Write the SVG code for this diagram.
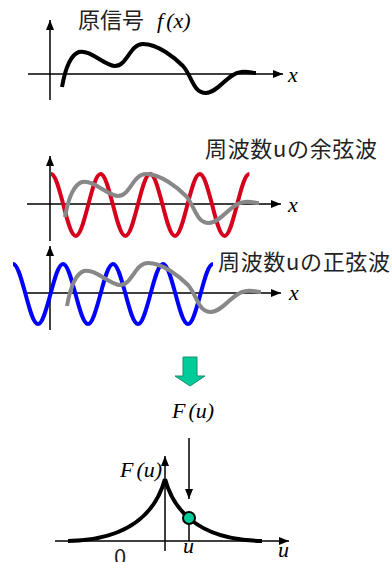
<svg xmlns="http://www.w3.org/2000/svg" width="392" height="562" viewBox="0 0 392 562">
<defs>
<marker id="ah" markerUnits="userSpaceOnUse" markerWidth="10" markerHeight="8" refX="10" refY="4" orient="auto">
<path d="M0,0 L10,4 L0,8 z" fill="#000"/>
</marker>
<path id="sig" d="M62,87 C65,70 70,55 79,52 C90,49 105,66 115,66 C127,66 130,44 143,44 C158,44 175,58 183,66 C192,76 193,93 206,93 C218,93 228,73 241,72 C248,71 252,73 256,73"/>
</defs>
<style>
.ax{stroke:#000;stroke-width:1.5;fill:none}
.axa{stroke:#000;stroke-width:1.5;fill:none;marker-end:url(#ah)}
.sig{stroke:#000;stroke-width:4;fill:none;stroke-linecap:butt}
.gray{stroke:#888;stroke-width:4;fill:none}
.red{stroke:#D6001C;stroke-width:4;fill:none}
.blue{stroke:#0000FF;stroke-width:4;fill:none}
.jp{font-family:"Noto Sans CJK JP","Noto Sans",sans-serif;font-size:22px;fill:#222}
.m{font-family:"Liberation Serif",serif;font-style:italic;font-size:22px;fill:#000}
.mu{font-family:"Liberation Serif",serif;font-size:22px;fill:#000}
.green{fill:#00CC99;stroke:#1A8A6A;stroke-width:1}
</style>

<g id="original">
<line class="axa" x1="50" y1="100" x2="50" y2="20"/>
<line class="axa" x1="28" y1="74" x2="283" y2="74"/>
<use href="#sig" class="sig"/>
<text class="jp" x="78" y="28" font-size="21">原信号</text>
<text class="m" x="157" y="28">f<tspan class="mu" dx="3">(</tspan>x<tspan class="mu">)</tspan></text>
<text class="m" x="288" y="82">x</text>
</g>

<g id="cosine">
<line class="axa" x1="50" y1="241" x2="50" y2="156"/>
<line class="axa" x1="27" y1="204" x2="281" y2="204"/>
<path class="red" d="M51,174 c4.49,0 8.36,15.88 12.4,31 c4.04,15.88 7.91,31 12.4,31 c4.49,0 8.36,-15.88 12.4,-31 c4.04,-15.88 7.91,-31 12.4,-31 c4.49,0 8.36,15.88 12.4,31 c4.04,15.88 7.91,31 12.4,31 c4.49,0 8.36,-15.88 12.4,-31 c4.04,-15.88 7.91,-31 12.4,-31 c4.49,0 8.36,15.88 12.4,31 c4.04,15.88 7.91,31 12.4,31 c4.49,0 8.36,-15.88 12.4,-31 c4.04,-15.88 7.91,-31 12.4,-31 c4.49,0 8.36,15.88 12.4,31 c4.04,15.88 7.91,31 12.4,31 c4.49,0 8.36,-15.88 12.4,-31 c4.04,-15.88 7.91,-31 12.4,-31"/>
<use href="#sig" class="gray" transform="translate(3,130)"/>
<text class="jp" x="205" y="157" textLength="172" lengthAdjust="spacing">周波数uの余弦波</text>
<text class="m" x="288" y="212">x</text>
</g>

<g id="sine">
<line class="axa" x1="50" y1="330" x2="50" y2="246"/>
<line class="axa" x1="27" y1="293" x2="281" y2="293"/>
<path class="blue" d="M13,264 c4.52,0 8.42,15.37 12.5,30 c4.08,15.37 7.98,30 12.5,30 c4.52,0 8.42,-15.37 12.5,-30 c4.08,-15.37 7.98,-30 12.5,-30 c4.52,0 8.42,15.37 12.5,30 c4.08,15.37 7.98,30 12.5,30 c4.52,0 8.42,-15.37 12.5,-30 c4.08,-15.37 7.98,-30 12.5,-30 c4.52,0 8.42,15.37 12.5,30 c4.08,15.37 7.98,30 12.5,30 c4.52,0 8.42,-15.37 12.5,-30 c4.08,-15.37 7.98,-30 12.5,-30 c4.52,0 8.42,15.37 12.5,30 c4.08,15.37 7.98,30 12.5,30 c4.52,0 8.42,-15.37 12.5,-30 c4.08,-15.37 7.98,-30 12.5,-30"/>
<use href="#sig" class="gray" transform="translate(5,219)"/>
<text class="jp" x="218" y="270" textLength="172" lengthAdjust="spacing">周波数uの正弦波</text>
<text class="m" x="289" y="300">x</text>
</g>

<g id="transform-arrow">
<polygon class="green" points="183,357 197,357 197,376 205,376 190,386 175,376 183,376"/>
</g>

<g id="fu-label">
<text class="m" x="172" y="418">F<tspan class="mu" dx="3">(</tspan>u<tspan class="mu">)</tspan></text>
</g>

<g id="spectrum">
<line class="axa" x1="165" y1="551" x2="165" y2="456"/>
<line class="axa" x1="55" y1="541" x2="289" y2="541"/>
<path class="sig" d="M165,479 C173,508 196,540 262,541"/>
<path class="sig" d="M165,479 C157,508 134,540 68,541"/>
<line class="ax" x1="189" y1="518" x2="189" y2="541"/>
<circle cx="189" cy="518" r="6" fill="#00CC99" stroke="#000" stroke-width="2"/>
<text class="m" x="120" y="477">F<tspan class="mu" dx="3">(</tspan>u<tspan class="mu">)</tspan></text>
<text class="jp" x="114" y="565" font-size="20">0</text>
<text class="m" x="183" y="553">u</text>
<text class="m" x="278" y="557">u</text>
</g>

<g id="connectors">
<line class="axa" x1="189" y1="438" x2="189" y2="499"/>
</g>
</svg>
